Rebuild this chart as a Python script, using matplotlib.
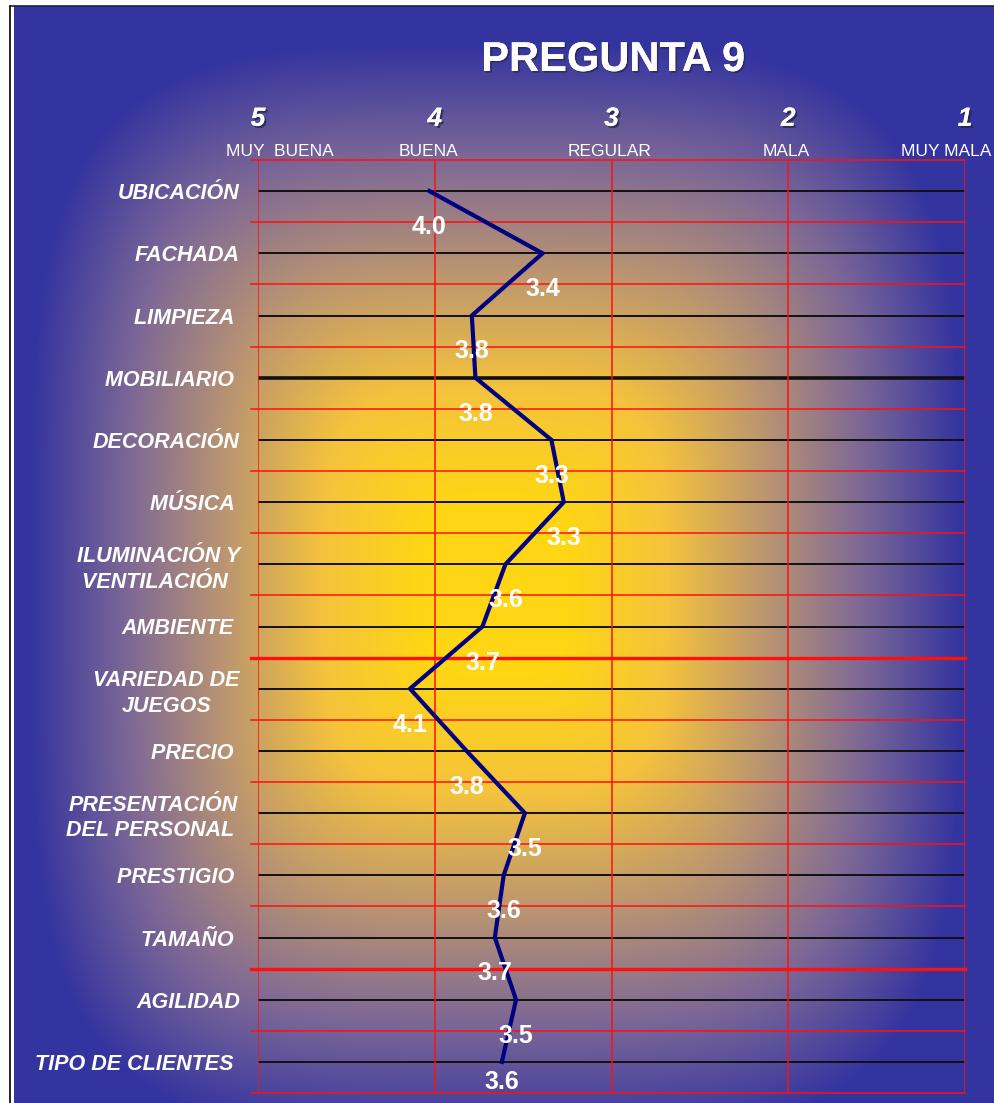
import numpy as np
import matplotlib
matplotlib.use("Agg")
import matplotlib.pyplot as plt
import matplotlib.patheffects as pe
from matplotlib.lines import Line2D
from matplotlib.transforms import blended_transform_factory

# ---- data -------------------------------------------------------------
categorias = [
    "UBICACIÓN", "FACHADA", "LIMPIEZA ", "MOBILIARIO ", "DECORACIÓN",
    "MÚSICA ", "ILUMINACIÓN Y\nVENTILACIÓN ", "AMBIENTE ", "VARIEDAD DE\nJUEGOS",
    "PRECIO ", "PRESENTACIÓN\nDEL PERSONAL ", "PRESTIGIO ", "TAMAÑO ",
    "AGILIDAD", "TIPO DE CLIENTES ",
]
promedios = [4.03, 3.39, 3.79, 3.77, 3.34, 3.27, 3.60, 3.73, 4.14, 3.82,
             3.49, 3.61, 3.66, 3.54, 3.62]
escala = [5, 4, 3, 2, 1]
escala_txt = ["MUY  BUENA", "BUENA", "REGULAR", "MALA", "MUY MALA"]
escala_txt_dx = [22, -6, -2, -2, -19]   # pixel nudges of the scale words

W, H, DPI = 994, 1103, 100
fig = plt.figure(figsize=(W / DPI, H / DPI), dpi=DPI, facecolor="white")

# ---- background: blue frame fading to a yellow centre ----------------
x0_px, y0_px = 14, 6
bw, bh = W - x0_px, H - y0_px
xx, yy = np.meshgrid(np.arange(bw) + x0_px, np.arange(bh) + y0_px)
cx, cy, ax_r, ay_r = 495.0, 590.0, 490.0, 575.0
p = 4.0
d = (np.abs((xx - cx) / ax_r) ** p + np.abs((yy - cy) / ay_r) ** p) ** (1 / p)
t = np.clip((d - 0.15) / 0.8, 0, 1)
stops_t = [0.0, 0.25, 0.5, 0.75, 1.0]
stops_c = np.array([
    [255, 214, 20],
    [245, 195, 60],
    [188, 150, 112],
    [125, 104, 150],
    [52, 52, 160],
]) / 255.0
img = np.dstack([np.interp(t, stops_t, stops_c[:, k]) for k in range(3)])
bg = fig.add_axes([x0_px / W, 0, bw / W, bh / H])
bg.imshow(img, aspect="auto", interpolation="bilinear")
bg.set_axis_off()

# thin outer frame lines
fig.add_artist(Line2D([9.5 / W, 9.5 / W], [0, 1 - 6 / H], color="black", lw=1.2))
fig.add_artist(Line2D([9.5 / W, 1], [1 - 5.5 / H, 1 - 5.5 / H], color="#1a1a4a", lw=1.2))

# ---- main plot area --------------------------------------------------
L, R, T, B = 258, 965, 160, 1093
ax = fig.add_axes([L / W, 1 - B / H, (R - L) / W, (B - T) / H])
ax.patch.set_alpha(0)
n = len(categorias)
ypos = np.arange(n)
ax.set_xlim(5, 1)
ax.set_ylim(n - 0.5, -0.5)

red = "#ff1010"
tick_frac = 7 / (R - L)
# row boundaries in red (extend a little to the left as ticks)
for i in range(n + 1):
    yb = i - 0.5
    lw = 2.4 if i in (8, 13) else 1.1
    ax.axhline(yb, xmin=-tick_frac, xmax=1, color=red, lw=lw, clip_on=False, zorder=2)
# category lines in black
for i in ypos:
    ax.axhline(i, color="#111111", lw=2.6 if i == 3 else 1.4, zorder=2)
# vertical red lines on every scale value
for v in escala:
    ax.axvline(v, color=red, lw=1.1, zorder=2)
for s in ax.spines.values():
    s.set_visible(False)

# the average rating line
ax.plot(promedios, ypos, color="#000080", lw=3.0, zorder=4, solid_joinstyle="miter")

# value labels below each point (the last one is lifted to stay inside)
for k, (v, y) in enumerate(zip(promedios, ypos)):
    off = -20 if k == n - 1 else -36
    ax.annotate(f"{v:.1f}", (v, y), xytext=(0, off), textcoords="offset pixels",
                ha="center", va="center", color="white", fontsize=18,
                fontfamily="Liberation Sans", fontweight="bold", zorder=5)

# scale numbers along the top
ax.set_xticks(escala)
ax.set_xticklabels([str(v) for v in escala])
ax.tick_params(axis="x", top=True, labeltop=True, bottom=False, labelbottom=False,
               length=0, pad=21)
shadow = [pe.withSimplePatchShadow(offset=(1.5, -1.5), shadow_rgbFace="#202040", alpha=0.7),
          pe.Normal()]
for lbl in ax.get_xticklabels():
    lbl.set_fontfamily("Liberation Sans")
    lbl.set_fontweight("bold")
    lbl.set_fontstyle("italic")
    lbl.set_fontsize(19)
    lbl.set_color("white")
    lbl.set_path_effects(shadow)

# scale words just above the grid
trans = blended_transform_factory(ax.transData, ax.transAxes)
for v, txt, dx in zip(escala, escala_txt, escala_txt_dx):
    ax.annotate(txt, (v, 1 + 9 / (B - T)), xycoords=trans, xytext=(dx, 0),
                textcoords="offset pixels", ha="center", va="center",
                color="white", fontsize=12.5, fontfamily="Liberation Sans",
                annotation_clip=False)

# category labels
ax.set_yticks(ypos)
ax.set_yticklabels(categorias)
ax.tick_params(axis="y", length=0, pad=13)
for lbl in ax.get_yticklabels():
    lbl.set_fontfamily("Liberation Sans")
    lbl.set_fontweight("bold")
    lbl.set_fontstyle("italic")
    lbl.set_fontsize(15.5)
    lbl.set_color("white")
    lbl.set_multialignment("center")
    lbl.set_linespacing(1.3)

# title
fig.text(613 / W, 1 - 60 / H, "PREGUNTA 9", ha="center", va="center", color="white",
         fontsize=30, fontweight="bold", fontfamily="Liberation Sans",
         path_effects=[pe.withSimplePatchShadow(offset=(1.2, -1.2),
                                                shadow_rgbFace="#202040", alpha=0.6),
                       pe.Normal()])

fig.savefig("out.png", dpi=DPI, facecolor="white")
